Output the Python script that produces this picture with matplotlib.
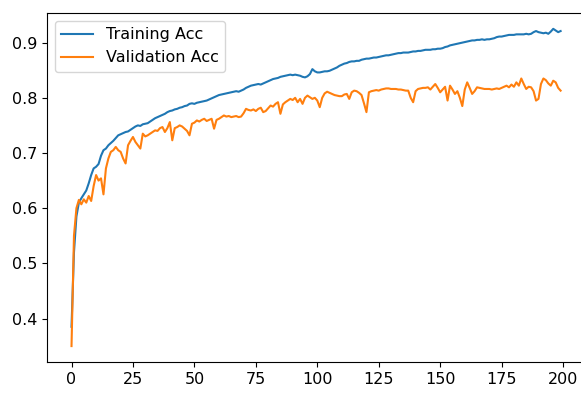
import numpy as np
import matplotlib
matplotlib.use("Agg")
import matplotlib.pyplot as plt

# accuracy per epoch
train_acc = [
    0.385, 0.520, 0.585, 0.610, 0.618, 0.625, 0.632, 0.645, 0.660, 0.672,
    0.675, 0.680, 0.695, 0.705, 0.708, 0.714, 0.718, 0.722, 0.727, 0.732,
    0.734, 0.736, 0.738, 0.739, 0.742, 0.745, 0.748, 0.750, 0.749, 0.752,
    0.753, 0.754, 0.757, 0.760, 0.763, 0.765, 0.767, 0.769, 0.771, 0.774,
    0.776, 0.777, 0.779, 0.780, 0.782, 0.783, 0.785, 0.786, 0.789, 0.790,
    0.789, 0.791, 0.792, 0.793, 0.794, 0.795, 0.797, 0.799, 0.801, 0.803,
    0.805, 0.806, 0.807, 0.808, 0.809, 0.810, 0.811, 0.812, 0.811, 0.813,
    0.815, 0.818, 0.820, 0.822, 0.823, 0.824, 0.825, 0.824, 0.826, 0.828,
    0.830, 0.832, 0.834, 0.835, 0.836, 0.838, 0.839, 0.840, 0.841, 0.842,
    0.841, 0.842, 0.841, 0.840, 0.838, 0.837, 0.839, 0.843, 0.852, 0.848,
    0.846, 0.846, 0.847, 0.848, 0.848, 0.849, 0.851, 0.853, 0.855, 0.858,
    0.860, 0.862, 0.863, 0.865, 0.866, 0.866, 0.867, 0.867, 0.869, 0.870,
    0.871, 0.871, 0.872, 0.873, 0.873, 0.874, 0.875, 0.876, 0.877, 0.877,
    0.878, 0.879, 0.880, 0.881, 0.881, 0.882, 0.882, 0.882, 0.883, 0.884,
    0.884, 0.885, 0.885, 0.886, 0.887, 0.887, 0.887, 0.888, 0.888, 0.889,
    0.889, 0.890, 0.892, 0.893, 0.895, 0.896, 0.897, 0.898, 0.899, 0.900,
    0.901, 0.902, 0.903, 0.904, 0.904, 0.905, 0.905, 0.906, 0.905, 0.906,
    0.906, 0.907, 0.908, 0.910, 0.911, 0.911, 0.912, 0.913, 0.914, 0.914,
    0.914, 0.915, 0.915, 0.915, 0.915, 0.916, 0.915, 0.916, 0.919, 0.921,
    0.919, 0.918, 0.917, 0.918, 0.916, 0.920, 0.925, 0.922, 0.919, 0.921,
]
val_acc = [
    0.350, 0.550, 0.600, 0.615, 0.607, 0.616, 0.610, 0.622, 0.613, 0.640,
    0.660, 0.650, 0.654, 0.625, 0.672, 0.690, 0.702, 0.705, 0.711, 0.705,
    0.702, 0.690, 0.681, 0.714, 0.722, 0.729, 0.720, 0.714, 0.708, 0.735,
    0.730, 0.732, 0.735, 0.738, 0.741, 0.740, 0.745, 0.747, 0.738, 0.745,
    0.756, 0.723, 0.745, 0.747, 0.750, 0.748, 0.744, 0.740, 0.732, 0.753,
    0.755, 0.759, 0.757, 0.760, 0.762, 0.758, 0.760, 0.762, 0.744, 0.760,
    0.762, 0.765, 0.768, 0.766, 0.767, 0.765, 0.766, 0.767, 0.765, 0.766,
    0.772, 0.780, 0.778, 0.777, 0.779, 0.776, 0.780, 0.782, 0.774, 0.776,
    0.781, 0.786, 0.784, 0.789, 0.792, 0.771, 0.788, 0.792, 0.795, 0.798,
    0.796, 0.800, 0.792, 0.798, 0.789, 0.800, 0.804, 0.801, 0.798, 0.800,
    0.795, 0.783, 0.800, 0.808, 0.811, 0.809, 0.807, 0.805, 0.804, 0.803,
    0.803, 0.806, 0.807, 0.798, 0.810, 0.813, 0.812, 0.809, 0.805, 0.790,
    0.774, 0.810, 0.812, 0.813, 0.814, 0.813, 0.815, 0.816, 0.817, 0.817,
    0.816, 0.816, 0.816, 0.815, 0.815, 0.814, 0.813, 0.813, 0.800, 0.792,
    0.812, 0.816, 0.817, 0.818, 0.818, 0.819, 0.815, 0.820, 0.825, 0.818,
    0.810, 0.815, 0.820, 0.795, 0.822, 0.815, 0.807, 0.812, 0.800, 0.785,
    0.815, 0.828, 0.818, 0.807, 0.812, 0.819, 0.818, 0.817, 0.816, 0.816,
    0.816, 0.815, 0.816, 0.817, 0.816, 0.818, 0.820, 0.822, 0.819, 0.824,
    0.820, 0.828, 0.822, 0.835, 0.825, 0.816, 0.820, 0.819, 0.812, 0.795,
    0.798, 0.825, 0.835, 0.832, 0.826, 0.822, 0.831, 0.828, 0.818, 0.813,
]
epochs = np.arange(len(train_acc))

plt.rcParams['font.size'] = 11.5

fig = plt.figure(figsize=(5.81, 3.93), dpi=100)
# the reference is a cropped screenshot: the right edge runs off the picture
ax = fig.add_axes([0.081, 0.079, 0.926, 0.888])
ax.plot(epochs, train_acc, label="Training Acc", lw=1.5)
ax.plot(epochs, val_acc, label="Validation Acc", lw=1.5)
ax.legend(loc="upper left")
ax.set_xticks([0, 25, 50, 75, 100, 125, 150, 175, 200])

fig.savefig("out.png", dpi=100)
